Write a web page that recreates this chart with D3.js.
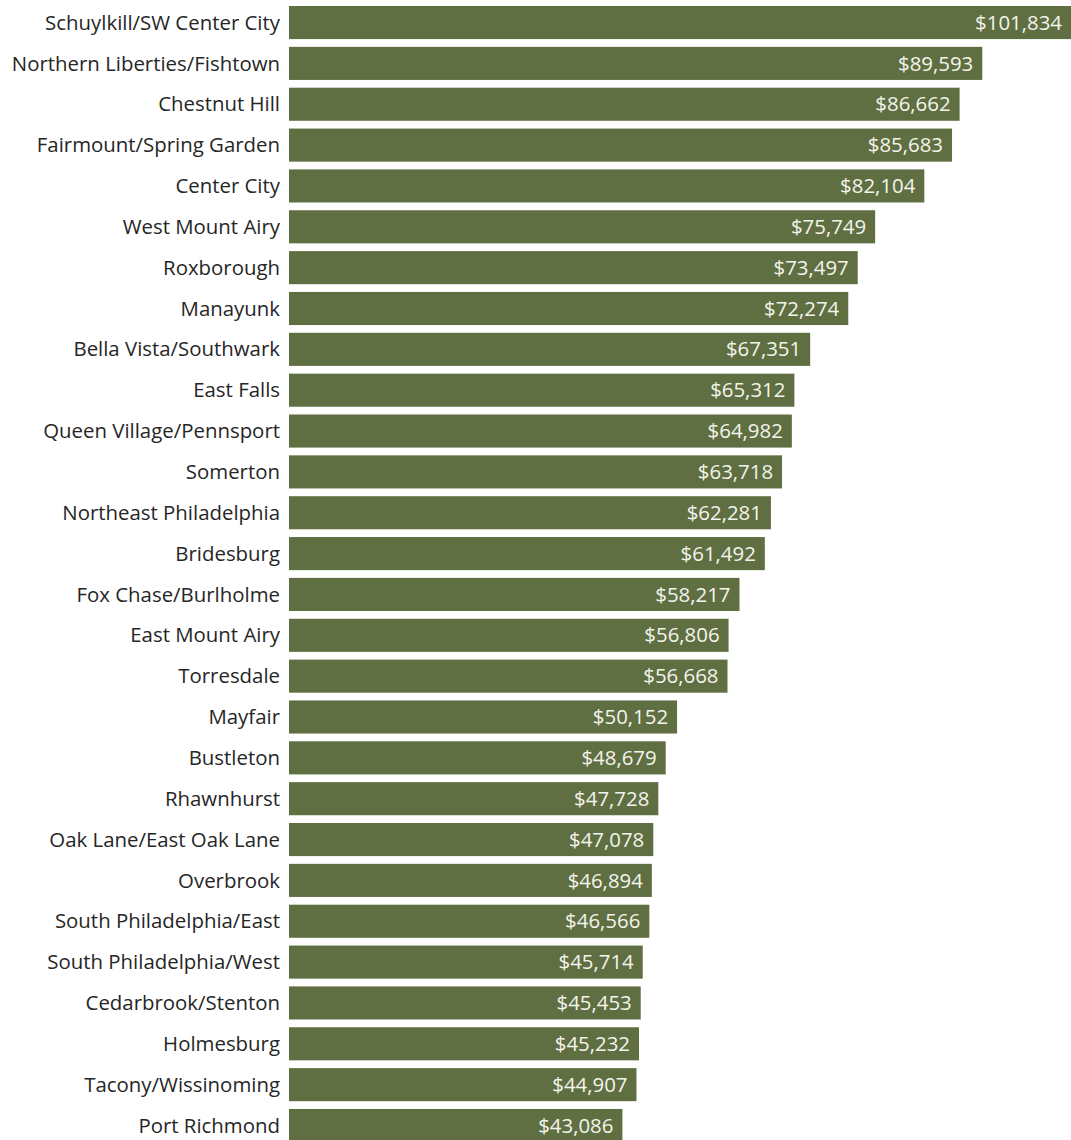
<!DOCTYPE html>
<html>
<head>
<meta charset="utf-8">
<script src="https://cdn.jsdelivr.net/npm/d3@7"></script>
<style>
  body { margin: 0; background: #fff; }
  svg { display: block; }
  .name { font-family: "Open Sans", sans-serif; font-size: 20.4px; fill: #262626; }
  .val { font-family: "Open Sans", sans-serif; font-size: 20.4px; fill: #f4f4ec; }
</style>
</head>
<body>
<div id="chart"></div>
<script>
const neighborhoods = [
  "Schuylkill/SW Center City", "Northern Liberties/Fishtown", "Chestnut Hill",
  "Fairmount/Spring Garden", "Center City", "West Mount Airy", "Roxborough",
  "Manayunk", "Bella Vista/Southwark", "East Falls", "Queen Village/Pennsport",
  "Somerton", "Northeast Philadelphia", "Bridesburg", "Fox Chase/Burlholme",
  "East Mount Airy", "Torresdale", "Mayfair", "Bustleton", "Rhawnhurst",
  "Oak Lane/East Oak Lane", "Overbrook", "South Philadelphia/East",
  "South Philadelphia/West", "Cedarbrook/Stenton", "Holmesburg",
  "Tacony/Wissinoming", "Port Richmond"
];
const incomes = [
  101834, 89593, 86662, 85683, 82104, 75749, 73497, 72274, 67351, 65312,
  64982, 63718, 62281, 61492, 58217, 56806, 56668, 50152, 48679, 47728,
  47078, 46894, 46566, 45714, 45453, 45232, 44907, 43086
];

const chartW = 1071, chartH = 1140;
const barLeft = 289, barTop = 6, rowStep = 40.85, gap = 0.19;

const svg = d3.select("#chart").append("svg")
  .attr("width", chartW)
  .attr("height", chartH);

const x = d3.scaleLinear()
  .domain([0, 101834])
  .range([barLeft, barLeft + 788]);

// band step comes out as rowStep when the range is step * (n - paddingInner)
const y = d3.scaleBand()
  .domain(neighborhoods)
  .range([barTop, barTop + rowStep * (neighborhoods.length - gap)])
  .paddingInner(gap)
  .paddingOuter(0);

const data = neighborhoods.map((n, i) => ({ name: n, value: incomes[i] }));
const fmt = d3.format("$,");

// bars
svg.selectAll(".bar")
  .data(data)
  .join("rect")
  .attr("class", "bar")
  .attr("x", x(0))
  .attr("y", d => y(d.name))
  .attr("width", d => x(d.value) - x(0))
  .attr("height", y.bandwidth())
  .attr("fill", "#5f6f42");

// names on the left
svg.selectAll(".name")
  .data(data)
  .join("text")
  .attr("class", "name")
  .attr("x", 280)
  .attr("y", d => y(d.name) + y.bandwidth() / 2)
  .attr("dy", "0.35em")
  .attr("text-anchor", "end")
  .text(d => d.name);

// values inside the bar end
svg.selectAll(".val")
  .data(data)
  .join("text")
  .attr("class", "val")
  .attr("x", d => Math.min(x(d.value), chartW) - 9)
  .attr("y", d => y(d.name) + y.bandwidth() / 2)
  .attr("dy", "0.35em")
  .attr("text-anchor", "end")
  .text(d => fmt(d.value));
</script>
</body>
</html>
